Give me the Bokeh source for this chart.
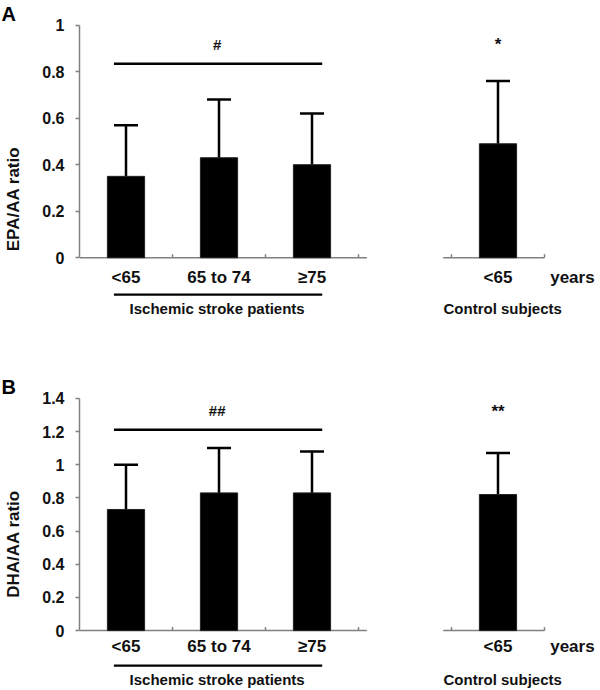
from bokeh.plotting import figure
from bokeh.layouts import column
from bokeh.models import Range1d, FixedTicker, Whisker, TeeHead, ColumnDataSource
from bokeh.core.properties import value
from bokeh.embed import file_html
from bokeh.resources import INLINE

# ---------------- data ----------------
age_labels = ["<65", "65 to 74", "\u226575", "<65"]
group_names = ["Ischemic stroke patients", "Control subjects"]
unit_label = "years"

epa_mean = [0.35, 0.43, 0.40, 0.49]
epa_sd = [0.22, 0.25, 0.22, 0.27]
dha_mean = [0.73, 0.83, 0.83, 0.82]
dha_sd = [0.27, 0.27, 0.25, 0.25]

epa_ticks = [0, 0.2, 0.4, 0.6, 0.8, 1.0]
epa_tick_labels = ["0", "0.2", "0.4", "0.6", "0.8", "1"]
dha_ticks = [0, 0.2, 0.4, 0.6, 0.8, 1.0, 1.2, 1.4]
dha_tick_labels = ["0", "0.2", "0.4", "0.6", "0.8", "1", "1.2", "1.4"]

sig_group = ["#", "##"]
sig_control = ["*", "**"]

# ---------------- layout constants ----------------
X_POS = [0.5, 1.5, 2.5, 4.5]          # bar slots (category width = 1)
FONT = value("Liberation Sans")
TXT = "#111111"
AXC = "#808080"
PX_X = 93.0                             # px per category slot
W = 600
LEFT = 79
TOP = 24


def make_panel(letter, ylabel, means, sds, ticks, tick_labels, sig_g, sig_c,
               height, zero_px, px_y, off_lab, off_line, off_grp, sig_y, sig_g_y, sig_c_y):
    frame_h = height - TOP
    y1 = zero_px / px_y
    y0 = -(frame_h - zero_px) / px_y
    p = figure(width=W, height=height, output_backend="svg", toolbar_location=None,
               x_axis_location=None, min_border=0, min_border_left=LEFT, min_border_top=TOP,
               x_range=Range1d(0, (W - LEFT) / PX_X), y_range=Range1d(y0, y1 + 0.003),
               title=letter, title_location="above")
    p.title.align = "left"
    p.title.offset = -78
    p.title.standoff = 0
    p.title.text_font = "Liberation Sans"
    p.title.text_font_style = "bold"
    p.title.text_font_size = "20px"
    p.title.text_color = "black"
    p.grid.visible = False
    p.outline_line_color = None
    p.background_fill_color = "white"

    ya = p.yaxis[0]
    ya.ticker = FixedTicker(ticks=ticks)
    ya.major_label_overrides = {t: l for t, l in zip(ticks, tick_labels)}
    ya.bounds = (0, ticks[-1])
    ya.axis_line_color = AXC
    ya.axis_line_width = 1.5
    ya.major_tick_line_color = AXC
    ya.major_tick_line_width = 1.5
    ya.major_tick_out = 4
    ya.major_tick_in = 0
    ya.minor_tick_line_color = None
    ya.major_label_standoff = 11
    ya.major_label_text_font = "Liberation Sans"
    ya.major_label_text_font_style = "bold"
    ya.major_label_text_font_size = "16px"
    ya.major_label_text_color = TXT
    ya.axis_label = ylabel
    ya.axis_label_standoff = 16
    ya.axis_label_text_font = "Liberation Sans"
    ya.axis_label_text_font_style = "bold"
    ya.axis_label_text_font_size = "17px"
    ya.axis_label_text_color = TXT

    # x-axis segments (two groups) and upward ticks at category boundaries
    p.segment(x0=[0, 3.91], y0=[0, 0], x1=[3.09, 5.0], y1=[0, 0],
              line_color=AXC, line_width=1.5)
    bnd = [1, 2, 3, 4, 5]
    p.segment(x0=bnd, y0=[0] * 5, x1=bnd, y1=[3.5 / px_y] * 5,
              line_color=AXC, line_width=1.5)

    # bars
    src = ColumnDataSource(dict(x=X_POS, mean=means,
                                upper=[m + s for m, s in zip(means, sds)]))
    p.vbar(x="x", top="mean", bottom=0, width=0.4, source=src,
           fill_color="black", line_color="#222222", line_width=1)
    wk = Whisker(base="x", lower="mean", upper="upper", source=src, dimension="height",
                 line_color="black", line_width=2.5,
                 upper_head=TeeHead(size=24, line_color="black", line_width=2.5),
                 lower_head=None)
    p.add_layout(wk)

    # category labels
    p.text(x=X_POS, y=[-off_lab / px_y] * 4, text=age_labels, text_align="center",
           text_baseline="middle", text_font=FONT, text_font_style="bold",
           text_font_size="17px", text_color=TXT)
    p.text(x=[5.3], y=[-off_lab / px_y], text=[unit_label], text_align="center",
           text_baseline="middle", text_font=FONT, text_font_style="bold",
           text_font_size="17px", text_color=TXT)
    # group underline + group names
    p.segment(x0=[0.37], y0=[-off_line / px_y], x1=[2.61], y1=[-off_line / px_y],
              line_color="black", line_width=2.2)
    p.text(x=[1.48, 4.55], y=[-off_grp / px_y] * 2, text=group_names, text_align="center",
           text_baseline="middle", text_font=FONT, text_font_style="bold",
           text_font_size="15px", text_color=TXT)

    # significance
    p.segment(x0=[0.37], y0=[sig_y], x1=[2.61], y1=[sig_y], line_color="black", line_width=2.5)
    p.text(x=[1.48], y=[sig_g_y], text=[sig_g], text_align="center", text_baseline="middle",
           text_font=FONT, text_font_style="bold", text_font_size="15px", text_color=TXT)
    p.text(x=[4.5], y=[sig_c_y], text=[sig_c], text_align="center", text_baseline="middle",
           text_font=FONT, text_font_style="bold", text_font_size="17px", text_color=TXT)
    return p


# panel A: frame 24..373 px, zero line at 233 px below frame top
pA = make_panel("A", "EPA/AA ratio", epa_mean, epa_sd, epa_ticks, epa_tick_labels,
                sig_group[0], sig_control[0],
                height=373, zero_px=233.0, px_y=233.0,
                off_lab=20, off_line=37, off_grp=51,
                sig_y=0.834, sig_g_y=0.918, sig_c_y=0.918)
# panel B: frame 397..690 px, zero line at 233 px below frame top
pB = make_panel("B", "DHA/AA ratio", dha_mean, dha_sd, dha_ticks, dha_tick_labels,
                sig_group[1], sig_control[1],
                height=317, zero_px=233.0, px_y=166.2,
                off_lab=16, off_line=35, off_grp=49,
                sig_y=1.21, sig_g_y=1.325, sig_c_y=1.32)

layout = column(pA, pB, spacing=0)
open("out.html", "w").write(file_html(layout, INLINE))
